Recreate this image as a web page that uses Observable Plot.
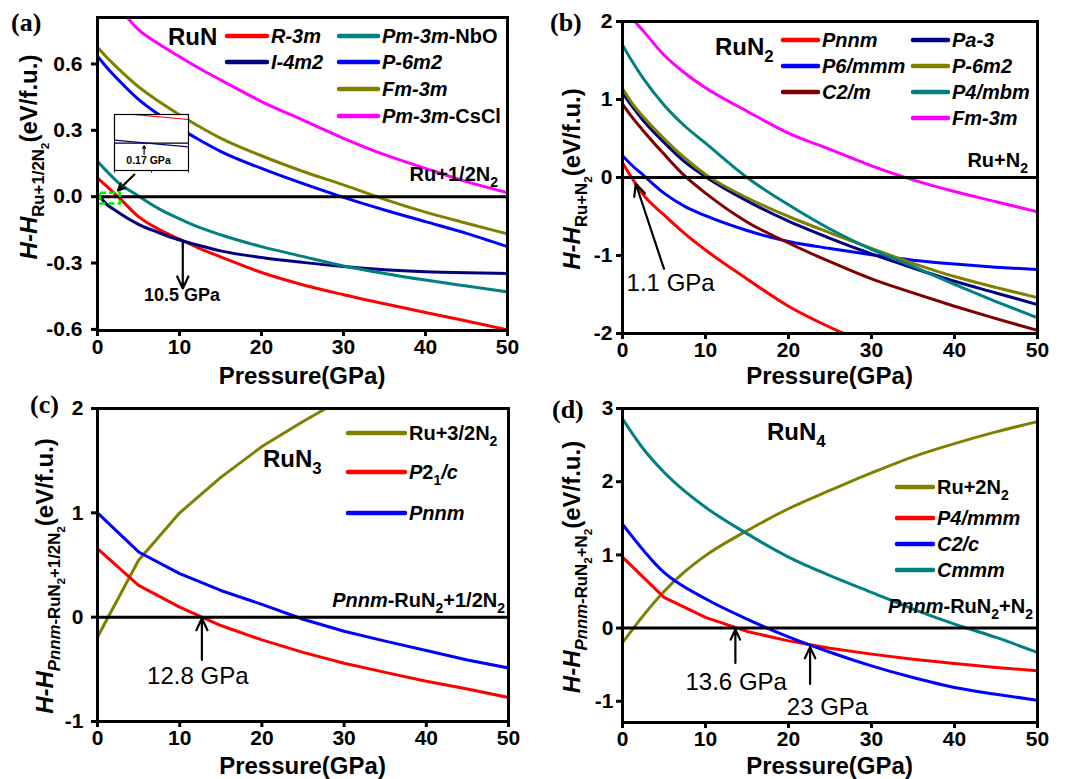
<!DOCTYPE html>
<html><head><meta charset="utf-8">
<script src="https://cdn.jsdelivr.net/npm/d3@7"></script>
<script src="https://cdn.jsdelivr.net/npm/@observablehq/plot@0.6"></script>
<style>
body{margin:0;background:#fff;}
#fig{position:relative;width:1067px;height:779px;overflow:hidden;background:#fff;}
.panel{position:absolute;}
</style></head><body><div id="fig"></div>
<script>
const FONT = '"Liberation Sans", Arial, Helvetica, sans-serif';
const SERIF = '"Liberation Serif", "Times New Roman", serif';

// ================= DATA =================
const xTicks = [0, 10, 20, 30, 40, 50];

// (a) RuN  (relative to Ru + 1/2 N2)
const pressureA = [0, 1, 2.5, 5, 7.5, 10, 12.5, 15, 20, 25, 30, 35, 40, 45, 50];
const namesA = ["*R-3m*", "*I-4m2*", "*Pm-3m*-NbO", "*P-6m2*", "*Fm-3m*", "*Pm-3m*-CsCl"];
const colorsA = ["#ff0000", "#000080", "#008080", "#0000ff", "#808000", "#ff00ff"];
const r3mA  = [0.085, 0.051, 0.0, -0.09, -0.148, -0.192, -0.235, -0.272, -0.343, -0.398, -0.443, -0.484, -0.524, -0.562, -0.602];
const i4m2A = [0.013, -0.03, -0.07, -0.125, -0.163, -0.196, -0.222, -0.245, -0.275, -0.297, -0.316, -0.33, -0.339, -0.344, -0.347];
const nboA  = [0.16, 0.12, 0.065, 0.003, -0.055, -0.1, -0.14, -0.172, -0.226, -0.27, -0.313, -0.347, -0.377, -0.404, -0.43];
const p6m2A = [0.635, 0.59, 0.53, 0.44, 0.37, 0.31, 0.255, 0.205, 0.128, 0.06, -0.003, -0.06, -0.113, -0.166, -0.226];
const fm3mA = [0.675, 0.635, 0.58, 0.497, 0.43, 0.37, 0.315, 0.265, 0.185, 0.115, 0.053, -0.012, -0.07, -0.12, -0.168];
const csclA = [0.98, 0.93, 0.86, 0.755, 0.69, 0.633, 0.578, 0.528, 0.43, 0.347, 0.264, 0.19, 0.128, 0.068, 0.018];
const yTicksA = [-0.6, -0.3, 0, 0.3, 0.6];
// inset of (a)
const insetP = [0, 0.4];
const insetRed = [0.133, 0.103];
const insetNavy = [0.013, -0.017];
const insetTicks = [0, 0.2, 0.4];
const insetNote = [{x: 0.184, y: -0.078, text: "0.17 GPa"}];
const insetArrow = [{x1: 0.16, y1: -0.05, x2: 0.16, y2: -0.012}];
const boxA = [{x1: 0.37, x2: 2.8, y1: -0.033, y2: 0.015}];
const arrowsA = [{x1: 4.5, y1: 0.10, x2: 2.5, y2: 0.028}, {x1: 10.4, y1: -0.205, x2: 10.4, y2: -0.415}];
const notesA = [{x: 10.3, y: -0.447, text: "10.5 GPa"}];

// (b) RuN2  (relative to Ru + N2)
const pressureB = [0, 1.1, 2.5, 5, 7.5, 10, 15, 20, 25, 30, 35, 40, 45, 50];
const namesB = ["*Pnnm*", "*P6/mmm*", "*C2/m*", "*Pa-3*", "*P-6m2*", "*P4/mbm*", "*Fm-3m*"];
const colorsB = ["#ff0000", "#0000ff", "#800000", "#000080", "#808000", "#008080", "#ff00ff"];
const pnnmB  = [0.19, 0.0, -0.22, -0.48, -0.72, -0.93, -1.3, -1.65, -1.92, -2.15, null, null, null, null];
const p6mmmB = [0.28, 0.16, 0.03, -0.2, -0.37, -0.49, -0.68, -0.82, -0.91, -0.99, -1.06, -1.11, -1.15, -1.18];
const c2mB   = [0.94, 0.78, 0.6, 0.3, 0.02, -0.2, -0.57, -0.84, -1.08, -1.3, -1.48, -1.65, -1.81, -1.96];
const pa3B   = [1.09, 0.92, 0.73, 0.45, 0.2, 0.01, -0.3, -0.56, -0.78, -0.98, -1.16, -1.33, -1.48, -1.63];
const p6m2B  = [1.14, 0.96, 0.78, 0.5, 0.25, 0.04, -0.26, -0.5, -0.71, -0.91, -1.1, -1.27, -1.41, -1.54];
const p4mbmB = [1.7, 1.5, 1.27, 0.93, 0.66, 0.44, 0.0, -0.35, -0.66, -0.92, -1.14, -1.37, -1.59, -1.8];
const fm3mB  = [2.22, 2.05, 1.88, 1.57, 1.34, 1.15, 0.85, 0.57, 0.36, 0.15, -0.03, -0.18, -0.31, -0.44];
const yTicksB = [-2, -1, 0, 1, 2];
const arrowsB = [{x1: 5.0, y1: -1.17, x2: 1.6, y2: -0.08}];
const notesB = [{x: 5.8, y: -1.36, text: "1.1 GPa"}];

// (c) RuN3  (relative to Pnnm-RuN2 + 1/2 N2)
const pressureC = [0, 5, 10, 15, 20, 25, 30, 35, 40, 45, 50];
const namesC = ["Ru+3/2N_2", "*P*2_1*/c*", "*Pnnm*"];
const colorsC = ["#808000", "#ff0000", "#0000ff"];
const ruC   = [-0.19, 0.545, 1.0, 1.34, 1.635, 1.875, 2.1, null, null, null, null];
const p21cC = [0.657, 0.304, 0.096, -0.08, -0.218, -0.337, -0.442, -0.529, -0.615, -0.689, -0.77];
const pnnmC = [1.0, 0.625, 0.417, 0.256, 0.122, -0.02, -0.135, -0.23, -0.32, -0.41, -0.487];
const yTicksC = [-1, 0, 1, 2];
const arrowsC = [{x1: 12.7, y1: -0.41, x2: 12.7, y2: -0.01}];
const notesC = [{x: 12.2, y: -0.567, text: "12.8 GPa"}];

// (d) RuN4  (relative to Pnnm-RuN2 + N2)
const pressureD = [0, 5, 10, 15, 20, 25, 30, 35, 40, 45, 50];
const pressureD2 = [0, 2.5, 5, 7.5, 10, 15, 20, 25, 30, 35, 40, 45, 50];
const namesD = ["Ru+2N_2", "*P4/mmm*", "*C2/c*", "*Cmmm*"];
const colorsD = ["#808000", "#ff0000", "#0000ff", "#008080"];
const ruD    = [-0.2, 0.17, 0.5, 0.77, 0.99, 1.33, 1.63, 1.88, 2.12, 2.34, 2.52, 2.68, 2.82];
const p4mmmD = [0.97, 0.42, 0.146, -0.046, -0.175, -0.275, -0.356, -0.425, -0.484, -0.539, -0.584];
const c2cD   = [1.42, 0.76, 0.40, 0.123, -0.12, -0.33, -0.516, -0.676, -0.813, -0.904, -0.986];
const cmmmD  = [2.86, 2.45, 2.13, 1.87, 1.65, 1.29, 0.97, 0.717, 0.489, 0.26, 0.055, -0.128, -0.333];
const yTicksD = [-1, 0, 1, 2, 3];
const arrowsD = [{x1: 13.6, y1: -0.477, x2: 13.6, y2: -0.02}, {x1: 22.6, y1: -0.765, x2: 22.6, y2: -0.26}];
const notesD = [{x: 13.7, y: -0.74, text: "13.6 GPa"}, {x: 24.7, y: -1.085, text: "23 GPa"}];

// ================= HELPERS =================
function parseRich(s) {
  const out = []; let level = 0, ital = false, buf = "";
  const flush = () => { if (buf) { out.push({t: buf, level, ital}); buf = ""; } };
  for (let i = 0; i < s.length; i++) {
    const c = s[i];
    if (c === "*") { flush(); ital = !ital; }
    else if (c === "_" && s[i + 1] === "{") { flush(); level++; i++; }
    else if (c === "_") { flush(); out.push({t: s[i + 1], level: level + 1, ital}); i++; }
    else if (c === "}") { flush(); level--; }
    else buf += c;
  }
  flush();
  return out;
}
function richText(parent, str, o) {
  const size = o.size, k = 0.7;
  const t = parent.append("text")
    .attr("x", o.x).attr("y", o.y)
    .attr("font-family", o.family || FONT)
    .attr("font-weight", o.weight || "bold")
    .attr("font-size", size)
    .attr("text-anchor", o.anchor || "start")
    .attr("fill", "#000")
    .style("font-variant", "normal");
  if (o.rotate) t.attr("transform", `rotate(${o.rotate},${o.x},${o.y})`);
  let cur = 0;
  for (const seg of parseRich(str)) {
    let off = 0;
    for (let j = 1; j <= seg.level; j++) off += 0.3 * size * Math.pow(k, j - 1);
    const ts = t.append("tspan").attr("font-size", size * Math.pow(k, seg.level)).attr("dy", off - cur).text(seg.t);
    if (seg.ital) ts.attr("font-style", "italic");
    cur = off;
  }
  return t;
}
function rowsOf(xs, ys) { return xs.map((x, i) => ({x, y: ys[i]})).filter(d => d.y != null); }

// ================= LAYOUT =================
const panels = [
  { key: "a", left: 0, top: 0, width: 533, height: 390, m: [17, 26, 60, 97], yDomain: [-0.605, 0.81], yTicks: yTicksA,
    fmt: d => d.toFixed(1), padY: 9,
    series: namesA.map((n, i) => ({x: pressureA, y: [r3mA, i4m2A, nboA, p6m2A, fm3mA, csclA][i], color: colorsA[i], curve: "monotone-x"})),
    arrows: arrowsA, notes: notesA, noteStyle: {fontSize: 18, fontWeight: "bold"},
    box: boxA,
    label: {t: "(a)", x: 11, y: 31},
    title: {t: "RuN", x: 168, y: 45},
    ref: {t: "Ru+1/2N_2", x: 498, y: 181},
    ytitle: {t: "*H-H*_{Ru+1/2N_2}(eV/f.u.)", x: 37, y: 157},
    legend: [
      {i: 0, x: 227, len: 40, y: 36}, {i: 1, x: 227, len: 40, y: 62},
      {i: 2, x: 339, len: 39, y: 36}, {i: 3, x: 339, len: 39, y: 62},
      {i: 4, x: 339, len: 39, y: 89}, {i: 5, x: 339, len: 39, y: 116}],
    names: namesA, colors: colorsA },
  { key: "b", left: 533, top: 0, width: 534, height: 390, m: [21, 30, 57, 89], yDomain: [-2, 2], yTicks: yTicksB,
    fmt: d => String(d), padY: 4,
    series: namesB.map((n, i) => ({x: pressureB, y: [pnnmB, p6mmmB, c2mB, pa3B, p6m2B, p4mbmB, fm3mB][i], color: colorsB[i], curve: "monotone-x"})),
    arrows: arrowsB, notes: notesB, noteStyle: {fontSize: 24, fontWeight: "normal"},
    label: {t: "(b)", x: 17, y: 31},
    title: {t: "RuN_2", x: 182, y: 55},
    ref: {t: "Ru+N_2", x: 495, y: 167},
    ytitle: {t: "*H-H*_{Ru+N_2}(eV/f.u.)", x: 47, y: 179},
    legend: [
      {i: 0, x: 250, len: 35, y: 40}, {i: 1, x: 250, len: 35, y: 66}, {i: 2, x: 250, len: 35, y: 92},
      {i: 3, x: 380, len: 35, y: 40}, {i: 4, x: 380, len: 35, y: 66}, {i: 5, x: 380, len: 35, y: 92},
      {i: 6, x: 380, len: 35, y: 118}],
    names: namesB, colors: colorsB },
  { key: "c", left: 0, top: 390, width: 533, height: 389, m: [18, 25, 58, 97], yDomain: [-1, 2], yTicks: yTicksC,
    fmt: d => String(d), padY: 8,
    series: namesC.map((n, i) => ({x: pressureC, y: [ruC, p21cC, pnnmC][i], color: colorsC[i], curve: "linear"})),
    arrows: arrowsC, notes: notesC, noteStyle: {fontSize: 24, fontWeight: "normal"},
    label: {t: "(c)", x: 30, y: 23},
    title: {t: "RuN_3", x: 263, y: 77},
    ref: {t: "*Pnnm*-RuN_2+1/2N_2", x: 505, y: 217},
    ytitle: {t: "*H-H*_{*Pnnm*-RuN_2+1/2N_2}(eV/f.u.)", x: 53, y: 186},
    legend: [{i: 0, x: 348, len: 57, y: 43}, {i: 1, x: 348, len: 57, y: 82}, {i: 2, x: 348, len: 57, y: 123}],
    names: namesC, colors: colorsC },
  { key: "d", left: 533, top: 390, width: 534, height: 389, m: [18, 30, 57, 89], yDomain: [-1.29, 3], yTicks: yTicksD,
    fmt: d => String(d), padY: 3,
    series: [
      {x: pressureD2, y: ruD, color: colorsD[0], curve: "monotone-x"},
      {x: pressureD, y: p4mmmD, color: colorsD[1], curve: "linear"},
      {x: pressureD, y: c2cD, color: colorsD[2], curve: "monotone-x"},
      {x: pressureD2, y: cmmmD, color: colorsD[3], curve: "monotone-x"}],
    arrows: arrowsD, notes: notesD, noteStyle: {fontSize: 24, fontWeight: "normal"},
    label: {t: "(d)", x: 19, y: 28},
    title: {t: "RuN_4", x: 234, y: 50},
    ref: {t: "*Pnnm*-RuN_2+N_2", x: 500, y: 223},
    ytitle: {t: "*H-H*_{*Pnnm*-RuN_2+N_2}(eV/f.u.)", x: 47, y: 177},
    legend: [{i: 0, x: 364, len: 36, y: 97}, {i: 1, x: 364, len: 36, y: 128}, {i: 2, x: 364, len: 36, y: 154}, {i: 3, x: 364, len: 36, y: 180}],
    names: namesD, colors: colorsD }
];

const fig = document.getElementById("fig");

for (const P of panels) {
  const marks = [];
  for (const s of P.series) {
    marks.push(Plot.line(rowsOf(s.x, s.y), {x: "x", y: "y", stroke: s.color, strokeWidth: 3, curve: s.curve, clip: true}));
  }
  marks.push(Plot.ruleY([0], {stroke: "#000", strokeWidth: 3}));
  if (P.box) marks.push(Plot.rect(P.box, {x1: "x1", x2: "x2", y1: "y1", y2: "y2", fill: "none", stroke: "#00ee00", strokeWidth: 2.5, strokeDasharray: "6,3"}));
  marks.push(Plot.arrow(P.arrows, {x1: "x1", y1: "y1", x2: "x2", y2: "y2", stroke: "#000", strokeWidth: 2.2, headLength: 9, headAngle: 50}));
  marks.push(Plot.text(P.notes, {x: "x", y: "y", text: "text", fontSize: P.noteStyle.fontSize, fontWeight: P.noteStyle.fontWeight, fontFamily: FONT, fill: "#000"}));
  marks.push(Plot.axisX({ticks: xTicks, tickSize: 6, tickPadding: 3, strokeWidth: 3, tickFormat: d => String(d), label: null}));
  marks.push(Plot.axisY({ticks: P.yTicks, tickSize: 6, tickPadding: P.padY, strokeWidth: 3, tickFormat: P.fmt, label: null}));
  marks.push(Plot.frame({stroke: "#000", strokeWidth: 3}));

  const svg = Plot.plot({
    width: P.width, height: P.height,
    marginTop: P.m[0], marginRight: P.m[1], marginBottom: P.m[2], marginLeft: P.m[3],
    x: {domain: [0, 50]},
    y: {domain: P.yDomain},
    style: `font-family: ${FONT}; font-size: 21px; font-weight: bold; overflow: visible; background: transparent;`,
    marks
  });
  const g = d3.select(svg).append("g");
  g.append("text").attr("x", P.label.x).attr("y", P.label.y).attr("font-family", SERIF).attr("font-weight", "bold")
    .attr("font-size", 26).attr("text-anchor", "start").attr("fill", "#000").text(P.label.t);
  richText(g, P.title.t, {x: P.title.x, y: P.title.y, size: 24});
  richText(g, P.ref.t, {x: P.ref.x, y: P.ref.y, size: 20, anchor: "end"});
  richText(g, P.ytitle.t, {x: P.ytitle.x, y: P.ytitle.y, size: 24, anchor: "middle", rotate: -90});
  const fx = P.m[3] + (P.width - P.m[3] - P.m[1]) / 2;
  richText(g, "Pressure(GPa)", {x: fx, y: 384, size: 24, anchor: "middle"});
  for (const L of P.legend) {
    g.append("line").attr("x1", L.x).attr("x2", L.x + L.len).attr("y1", L.y).attr("y2", L.y)
      .attr("stroke", P.colors[L.i]).attr("stroke-width", 4.5).attr("stroke-linecap", "round");
    richText(g, P.names[L.i], {x: L.x + L.len + 4, y: L.y + 7, size: 20});
  }

  const div = document.createElement("div");
  div.className = "panel";
  div.style.left = P.left + "px"; div.style.top = P.top + "px";
  div.appendChild(svg);
  fig.appendChild(div);
}

// inset of panel (a)
const inset = Plot.plot({
  width: 74, height: 56, margin: 0,
  x: {domain: [0, 0.4]},
  y: {domain: [-0.12, 0.125], axis: null},
  style: `font-family: ${FONT}; font-size: 10px; font-weight: bold; overflow: visible; background: #fff;`,
  marks: [
    Plot.line(rowsOf(insetP, insetRed), {x: "x", y: "y", stroke: "#ff0000", strokeWidth: 1.2, clip: true}),
    Plot.ruleY([0], {stroke: "#000", strokeWidth: 1.2}),
    Plot.line(rowsOf(insetP, insetNavy), {x: "x", y: "y", stroke: "#000080", strokeWidth: 1.2, clip: true}),
    Plot.arrow(insetArrow, {x1: "x1", y1: "y1", x2: "x2", y2: "y2", stroke: "#000", strokeWidth: 1.2, headLength: 4}),
    Plot.text(insetNote, {x: "x", y: "y", text: "text", fontSize: 10.5, fontWeight: "bold", fontFamily: FONT}),
    Plot.axisX({ticks: insetTicks, tickSize: 2.5, tickFormat: () => "", label: null, strokeWidth: 1}),
    Plot.frame({stroke: "#000", strokeWidth: 1.2})
  ]
});
const idiv = document.createElement("div");
idiv.className = "panel";
idiv.style.left = "114px"; idiv.style.top = "114px";
idiv.appendChild(inset);
fig.appendChild(idiv);
</script></body></html>
